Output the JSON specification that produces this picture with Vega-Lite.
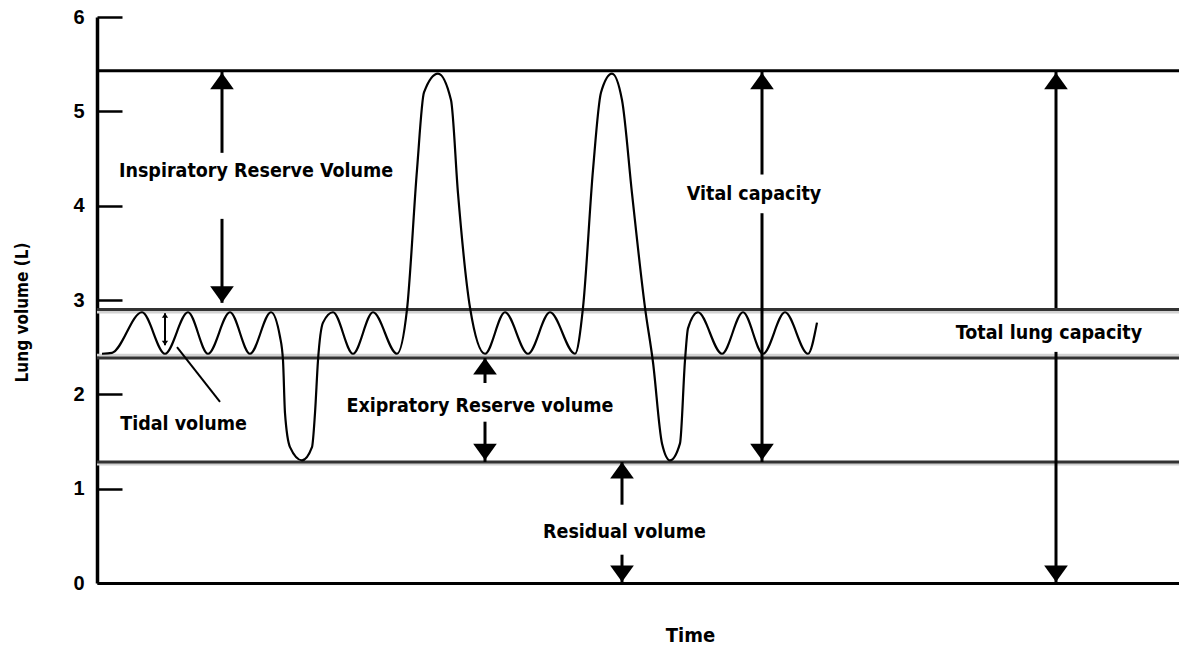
{
  "$schema": "https://vega.github.io/schema/vega-lite/v6.json",
  "width": 1082,
  "height": 566,
  "autosize": "none",
  "padding": {"left": 97, "top": 17, "right": 0, "bottom": 70},
  "background": "white",
  "config": {"view": {"stroke": null}, "axis": {"grid": false}},
  "datasets": {
    "levels": [
      {"v": 5.43, "kind": "top"},
      {"v": 2.9, "kind": "band"},
      {"v": 2.385, "kind": "band"},
      {"v": 1.283, "kind": "band"}
    ],
    "shadows": [{"v": 2.872}, {"v": 2.413}, {"v": 1.262}],
    "wave": [
      {"t": 5, "v": 2.43}, {"t": 15, "v": 2.44}, {"t": 45, "v": 2.87}, {"t": 68, "v": 2.43},
      {"t": 91, "v": 2.87}, {"t": 111, "v": 2.43}, {"t": 133, "v": 2.87}, {"t": 153, "v": 2.43},
      {"t": 174, "v": 2.87}, {"t": 183, "v": 2.61}, {"t": 186, "v": 2.36}, {"t": 188, "v": 1.8},
      {"t": 193, "v": 1.44}, {"t": 205, "v": 1.3}, {"t": 215, "v": 1.44}, {"t": 218, "v": 1.8},
      {"t": 221, "v": 2.36}, {"t": 226, "v": 2.76}, {"t": 236, "v": 2.87}, {"t": 256, "v": 2.43},
      {"t": 276, "v": 2.87}, {"t": 300, "v": 2.43}, {"t": 310, "v": 2.9}, {"t": 320, "v": 4.38},
      {"t": 327, "v": 5.2}, {"t": 341, "v": 5.4}, {"t": 354, "v": 5.12}, {"t": 361, "v": 4.13},
      {"t": 373, "v": 2.92}, {"t": 388, "v": 2.43}, {"t": 408, "v": 2.87}, {"t": 431, "v": 2.43},
      {"t": 453, "v": 2.87}, {"t": 478, "v": 2.43}, {"t": 486, "v": 2.92}, {"t": 496, "v": 4.38},
      {"t": 504, "v": 5.2}, {"t": 515, "v": 5.4}, {"t": 525, "v": 5.12}, {"t": 535, "v": 4.13},
      {"t": 548, "v": 2.92}, {"t": 556, "v": 2.34}, {"t": 565, "v": 1.48}, {"t": 573, "v": 1.3},
      {"t": 583, "v": 1.48}, {"t": 588, "v": 2.36}, {"t": 591, "v": 2.7}, {"t": 601, "v": 2.87},
      {"t": 625, "v": 2.43}, {"t": 646, "v": 2.87}, {"t": 666, "v": 2.43}, {"t": 688, "v": 2.87},
      {"t": 711, "v": 2.43}, {"t": 720, "v": 2.76}
    ],
    "segments": [
      {"t": 125, "v": 5.43, "v2": 4.56}, {"t": 125, "v": 3.86, "v2": 2.97},
      {"t": 388, "v": 2.385, "v2": 2.12}, {"t": 388, "v": 1.71, "v2": 1.283},
      {"t": 525, "v": 1.283, "v2": 0.83}, {"t": 525, "v": 0.3, "v2": 0},
      {"t": 665, "v": 5.43, "v2": 4.33}, {"t": 665, "v": 3.92, "v2": 1.283},
      {"t": 959, "v": 5.43, "v2": 2.915}, {"t": 959, "v": 2.45, "v2": 0}
    ],
    "headsUp": [
      {"t": 125, "v": 5.41}, {"t": 388, "v": 2.385}, {"t": 525, "v": 1.283},
      {"t": 665, "v": 5.41}, {"t": 959, "v": 5.41}
    ],
    "headsDown": [
      {"t": 125, "v": 2.97}, {"t": 388, "v": 1.3}, {"t": 525, "v": 0.01},
      {"t": 665, "v": 1.3}, {"t": 959, "v": 0.01}
    ],
    "tidal": [{"t": 68, "v": 2.86, "v2": 2.52}],
    "pointer": [{"t": 80, "v": 2.5, "t2": 123, "v2": 1.92}],
    "labels": [
      {"t": 159, "v": 4.37, "text": "Inspiratory Reserve Volume"},
      {"t": 86.5, "v": 1.69, "text": "Tidal volume"},
      {"t": 383, "v": 1.88, "text": "Exipratory Reserve volume"},
      {"t": 527.5, "v": 0.54, "text": "Residual volume"},
      {"t": 657, "v": 4.12, "text": "Vital capacity"},
      {"t": 952, "v": 2.65, "text": "Total lung capacity"}
    ]
  },
  "layer": [
    {
      "data": {"name": "shadows"},
      "mark": {"type": "rule", "strokeWidth": 3, "color": "#d2d2d2"},
      "encoding": {
        "y": {"field": "v", "type": "quantitative"}
      }
    },
    {
      "data": {"name": "levels"},
      "mark": {"type": "rule", "strokeWidth": 3},
      "encoding": {
        "y": {
          "field": "v", "type": "quantitative",
          "scale": {"domain": [0, 6], "nice": false, "zero": true},
          "axis": {
            "values": [0, 1, 2, 3, 4, 5, 6],
            "format": "d",
            "title": "Lung volume (L)",
            "titleFont": "Liberation Sans Narrow, DejaVu Sans Condensed, Liberation Sans",
            "titleFontSize": 17, "titleFontWeight": "bold", "titleColor": "black",
            "titlePadding": 41, "titleY": 295,
            "labelFont": "Liberation Sans", "labelFontSize": 20, "labelFontWeight": "bold",
            "labelColor": "black", "labelPadding": 38,
            "tickSize": -25, "tickWidth": 2.5, "tickColor": "black",
            "domainColor": "black", "domainWidth": 3.5
          }
        },
        "color": {
          "field": "kind", "type": "nominal", "legend": null,
          "scale": {"domain": ["top", "band"], "range": ["#000000", "#333333"]}
        }
      }
    },
    {
      "data": {"name": "wave"},
      "mark": {"type": "line", "interpolate": "monotone", "color": "black", "strokeWidth": 2.2},
      "encoding": {
        "x": {
          "field": "t", "type": "quantitative",
          "scale": {"domain": [0, 1082], "nice": false, "zero": true},
          "axis": {
            "ticks": false, "labels": false, "domainColor": "black", "domainWidth": 3,
            "title": "Time",
            "titleFont": "Liberation Sans Narrow, DejaVu Sans Condensed, Liberation Sans",
            "titleFontSize": 20, "titleFontWeight": "bold", "titleColor": "black",
            "titlePadding": 42, "titleX": 593
          }
        },
        "y": {"field": "v", "type": "quantitative"}
      }
    },
    {
      "data": {"name": "segments"},
      "mark": {"type": "rule", "color": "black", "strokeWidth": 3},
      "encoding": {
        "x": {"field": "t", "type": "quantitative"},
        "y": {"field": "v", "type": "quantitative"},
        "y2": {"field": "v2"}
      }
    },
    {
      "data": {"name": "headsUp"},
      "mark": {"type": "point", "shape": "M0,0L1,1.4L-1,1.4Z", "filled": true, "color": "black", "opacity": 1, "size": 560},
      "encoding": {
        "x": {"field": "t", "type": "quantitative"},
        "y": {"field": "v", "type": "quantitative"}
      }
    },
    {
      "data": {"name": "headsDown"},
      "mark": {"type": "point", "shape": "M0,0L1,-1.4L-1,-1.4Z", "filled": true, "color": "black", "opacity": 1, "size": 560},
      "encoding": {
        "x": {"field": "t", "type": "quantitative"},
        "y": {"field": "v", "type": "quantitative"}
      }
    },
    {
      "data": {"name": "tidal"},
      "mark": {"type": "rule", "color": "black", "strokeWidth": 2},
      "encoding": {
        "x": {"field": "t", "type": "quantitative"},
        "y": {"field": "v", "type": "quantitative"},
        "y2": {"field": "v2"}
      }
    },
    {
      "data": {"name": "tidal"},
      "mark": {"type": "point", "shape": "M0,0L1,1.4L-1,1.4Z", "filled": true, "color": "black", "opacity": 1, "size": 40},
      "encoding": {
        "x": {"field": "t", "type": "quantitative"},
        "y": {"field": "v", "type": "quantitative"}
      }
    },
    {
      "data": {"name": "tidal"},
      "mark": {"type": "point", "shape": "M0,0L1,-1.4L-1,-1.4Z", "filled": true, "color": "black", "opacity": 1, "size": 40},
      "encoding": {
        "x": {"field": "t", "type": "quantitative"},
        "y": {"field": "v2", "type": "quantitative"}
      }
    },
    {
      "data": {"name": "pointer"},
      "mark": {"type": "rule", "color": "black", "strokeWidth": 2},
      "encoding": {
        "x": {"field": "t", "type": "quantitative"},
        "y": {"field": "v", "type": "quantitative"},
        "x2": {"field": "t2"},
        "y2": {"field": "v2"}
      }
    },
    {
      "data": {"name": "labels"},
      "mark": {
        "type": "text", "font": "Liberation Sans Narrow, DejaVu Sans Condensed, Liberation Sans",
        "fontSize": 19.5, "fontWeight": "bold", "color": "black", "align": "center", "baseline": "middle"
      },
      "encoding": {
        "x": {"field": "t", "type": "quantitative"},
        "y": {"field": "v", "type": "quantitative"},
        "text": {"field": "text"}
      }
    }
  ]
}
